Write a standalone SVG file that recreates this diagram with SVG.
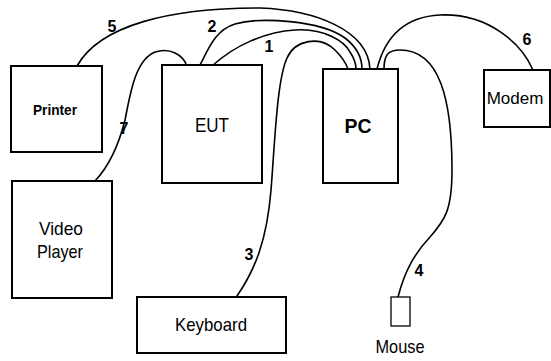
<svg xmlns="http://www.w3.org/2000/svg" width="551" height="361" viewBox="0 0 551 361">
<style>
.box{fill:#fff;stroke:#000;stroke-width:2}
.cable{fill:none;stroke:#000;stroke-width:1.6;stroke-linecap:round}
.t{font-family:"Liberation Sans",Arial,sans-serif;fill:#000;text-anchor:middle}
.b{font-weight:bold}
.n{font-family:"Liberation Sans",Arial,sans-serif;font-weight:bold;font-size:16px;fill:#000;text-anchor:middle}
</style>
<rect width="551" height="361" fill="#fff"/>
<g id="connectors">
<path id="c5" class="cable" d="M77,66 C100,25 170,8 260,8 C315,10 368,30 370,69"/>
<path id="c2" class="cable" d="M200,65 C208,50 215,30 235,24 C260,17 320,20 345,38 C358,48 362,58 362,69"/>
<path id="c1" class="cable" d="M212,66 C235,45 265,32 295,30 C325,28 345,42 350,52 C354,58 356,63 356,69"/>
<path id="c3" class="cable" d="M237,296 C255,270 267,240 271,190 C275,140 277,80 287,58 C295,40 320,35 335,50 C342,57 346,63 348,69"/>
<path id="c7" class="cable" d="M95,181 C110,165 120,140 125,120 C130,95 135,60 155,52 C170,47 183,55 187,66"/>
<path id="c6" class="cable" d="M377,69 C383,45 398,17 440,15 C490,13 522,45 533,70"/>
<path id="c4" class="cable" d="M384,69 C384,55 388,50 400,50 C440,50 452,100 452,170 C452,210 445,220 430,237 C415,253 405,270 398,297"/>
<text class="n" x="112" y="32">5</text>
<text class="n" x="212" y="32">2</text>
<text class="n" x="269" y="52">1</text>
<text class="n" x="124" y="134">7</text>
<text class="n" x="527" y="45">6</text>
<text class="n" x="249" y="260">3</text>
<text class="n" x="419" y="276">4</text>
</g>
<g id="printer">
<rect class="box" x="11" y="66" width="91" height="86"/>
<text class="t b" x="55" y="115" font-size="15" textLength="44" lengthAdjust="spacingAndGlyphs">Printer</text>
</g>
<g id="eut">
<rect class="box" x="162" y="65" width="100" height="118"/>
<text class="t" x="212" y="132" font-size="20" textLength="34" lengthAdjust="spacingAndGlyphs">EUT</text>
</g>
<g id="pc">
<rect class="box" x="323" y="69" width="75" height="114"/>
<text class="t b" x="358" y="133" font-size="21" textLength="27" lengthAdjust="spacingAndGlyphs">PC</text>
</g>
<g id="modem">
<rect class="box" x="484" y="70" width="66" height="57"/>
<text class="t" x="515" y="104" font-size="17">Modem</text>
</g>
<g id="video-player">
<rect class="box" x="12" y="181" width="100" height="117"/>
<text class="t" x="61" y="235" font-size="19" textLength="44" lengthAdjust="spacingAndGlyphs">Video</text>
<text class="t" x="60" y="258" font-size="19" textLength="46" lengthAdjust="spacingAndGlyphs">Player</text>
</g>
<g id="keyboard">
<rect class="box" x="137" y="297" width="149" height="56"/>
<text class="t" x="211" y="331" font-size="19" textLength="72" lengthAdjust="spacingAndGlyphs">Keyboard</text>
</g>
<g id="mouse">
<rect class="box" x="391" y="297" width="19" height="29" style="stroke-width:1.3"/>
<text class="t" x="400" y="353" font-size="19" textLength="49" lengthAdjust="spacingAndGlyphs">Mouse</text>
</g>
</svg>
